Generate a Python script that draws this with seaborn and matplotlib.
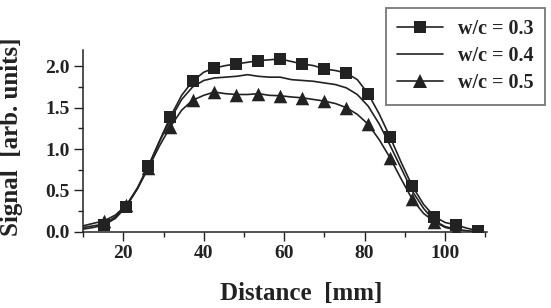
import numpy as np
import pandas as pd
import matplotlib
matplotlib.use("Agg")
import matplotlib.pyplot as plt
from matplotlib.lines import Line2D
from matplotlib.ticker import MultipleLocator
import seaborn as sns

# =============================
# DATA
# =============================
distance = [10.0, 12.5, 15.2, 18.0, 20.7, 23.5, 26.2, 29.0, 31.7, 34.5,
            37.2, 40.0, 42.6, 45.4, 48.1, 50.9, 53.6, 56.3, 59.0, 61.8,
            64.5, 67.3, 70.0, 72.8, 75.5, 78.2, 80.9, 83.7, 86.4, 89.2,
            91.9, 94.7, 97.4, 100.1, 102.8, 105.6, 108.3]

signal_03 = [0.03, 0.05, 0.08, 0.16, 0.30, 0.52, 0.79, 1.10, 1.39, 1.65,
             1.82, 1.93, 1.98, 2.01, 2.03, 2.05, 2.07, 2.08, 2.09, 2.06,
             2.03, 2.01, 1.97, 1.95, 1.92, 1.84, 1.67, 1.42, 1.14, 0.83,
             0.55, 0.33, 0.18, 0.11, 0.08, 0.04, 0.01]

signal_04 = [0.05, 0.07, 0.09, 0.18, 0.31, 0.53, 0.79, 1.09, 1.36, 1.60,
             1.75, 1.83, 1.86, 1.87, 1.88, 1.90, 1.88, 1.87, 1.87, 1.84,
             1.83, 1.82, 1.80, 1.78, 1.74, 1.66, 1.52, 1.30, 1.04, 0.76,
             0.49, 0.28, 0.13, 0.06, 0.03, 0.01, 0.00]

signal_05 = [0.07, 0.10, 0.13, 0.20, 0.32, 0.52, 0.77, 1.04, 1.27, 1.47,
             1.59, 1.65, 1.69, 1.67, 1.66, 1.66, 1.67, 1.65, 1.645, 1.63,
             1.62, 1.60, 1.58, 1.55, 1.50, 1.42, 1.30, 1.11, 0.89, 0.63,
             0.39, 0.22, 0.12, 0.05, 0.02]

labels = ["w/c = 0.3", "w/c = 0.4", "w/c = 0.5"]

# =============================
# STYLE
# =============================
sns.set_style("ticks")
plt.rcParams["font.family"] = ["Liberation Serif", "DejaVu Serif"]
plt.rcParams["font.weight"] = "bold"

INK = "#222222"

fig = plt.figure(figsize=(5.51, 3.08), dpi=100)
ax = fig.add_axes([0.151, 0.248, 0.733, 0.590])

df03 = pd.DataFrame({"x": distance, "y": signal_03})
df04 = pd.DataFrame({"x": distance, "y": signal_04})
df05 = pd.DataFrame({"x": distance[:len(signal_05)], "y": signal_05})

sns.lineplot(data=df04, x="x", y="y", color=INK, lw=1.2, ax=ax)
sns.lineplot(data=df05, x="x", y="y", color=INK, lw=1.2, ax=ax)
sns.lineplot(data=df03, x="x", y="y", color=INK, lw=1.2, ax=ax)

# markers sit on every other curve point
m05 = df05.iloc[2::2]
m03 = df03.iloc[2::2]
sns.scatterplot(data=m05, x="x", y="y", marker="^", s=95, color=INK,
                linewidth=0, ax=ax, zorder=3)
sns.scatterplot(data=m03, x="x", y="y", marker="s", s=78, color=INK,
                linewidth=0, ax=ax, zorder=4)

ax.set_xlim(10, 110.5)
ax.set_ylim(0, 2.2)
ax.xaxis.set_major_locator(MultipleLocator(20))
ax.xaxis.set_minor_locator(MultipleLocator(10))
ax.yaxis.set_major_locator(MultipleLocator(0.5))
ax.yaxis.set_minor_locator(MultipleLocator(0.25))
ax.set_xticks([20, 40, 60, 80, 100])
ax.set_xticklabels(["20", "40", "60", "80", "100"])

ax.tick_params(which="major", direction="out", length=6.5, width=1,
               labelsize=14, color=INK, labelcolor=INK, pad=3)
ax.tick_params(which="minor", direction="out", length=3.5, width=1, color=INK)
for lab in ax.get_xticklabels() + ax.get_yticklabels():
    lab.set_fontweight("bold")

sns.despine(ax=ax)
for side in ["left", "bottom"]:
    ax.spines[side].set_color(INK)
    ax.spines[side].set_linewidth(1.1)

ax.set_xlabel("Distance  [mm]", fontsize=18, fontweight="bold", color=INK)
ax.set_ylabel("Signal  [arb. units]", fontsize=18, fontweight="bold",
              color=INK)
ax.xaxis.set_label_coords(0.54, -0.275)
ax.yaxis.set_label_coords(-0.15, 0.52)

handles = [
    Line2D([], [], color=INK, lw=1.2, marker="s", markersize=9, markeredgewidth=0),
    Line2D([], [], color=INK, lw=1.2),
    Line2D([], [], color=INK, lw=1.2, marker="^", markersize=10, markeredgewidth=0),
]
leg = fig.legend(handles, labels, loc="upper right",
                 bbox_to_anchor=(0.989, 0.973), frameon=True, fancybox=False,
                 prop={"size": 14.5, "weight": "bold"}, handlelength=2.3,
                 handletextpad=0.75, labelspacing=0.35, borderpad=0.55,
                 borderaxespad=0)
leg.get_frame().set_edgecolor("#555555")
leg.get_frame().set_linewidth(1.3)
for t in leg.get_texts():
    t.set_color(INK)

fig.savefig("out.png", dpi=100)
